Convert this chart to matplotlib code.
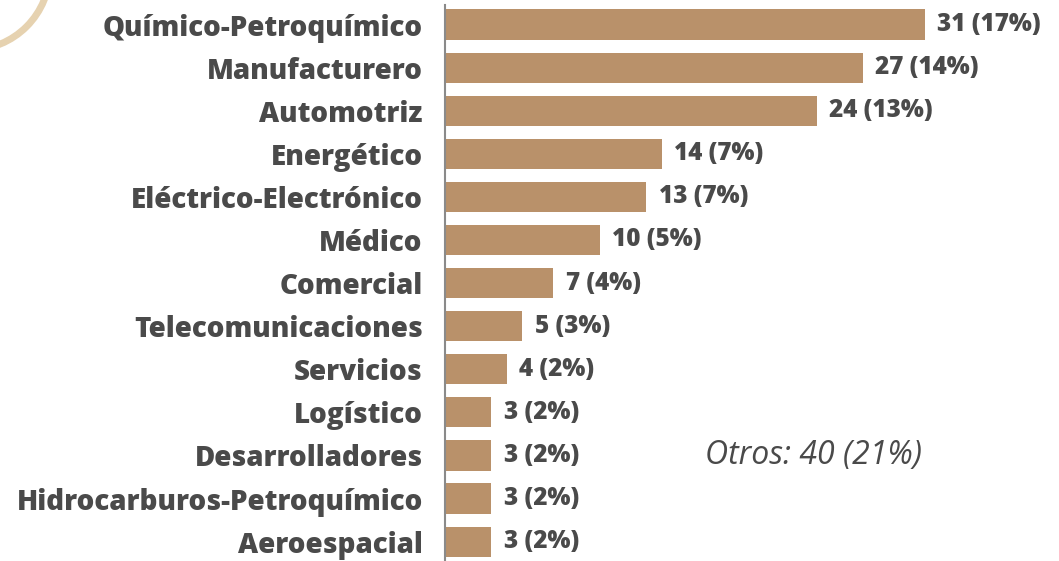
import matplotlib
matplotlib.use("Agg")
import matplotlib.pyplot as plt
from matplotlib.patches import Arc

sectores = ["Químico-Petroquímico", "Manufacturero", "Automotriz", "Energético",
            "Eléctrico-Electrónico", "Médico", "Comercial", "Telecomunicaciones",
            "Servicios", "Logístico", "Desarrolladores", "Hidrocarburos-Petroquímico",
            "Aeroespacial"]
empresas = [31, 27, 24, 14, 13, 10, 7, 5, 4, 3, 3, 3, 3]
porcentajes = [17, 14, 13, 7, 7, 5, 4, 3, 2, 2, 2, 2, 2]
otros_texto = "Otros: 40 (21%)"

bar_color = "#b9916a"
text_color = "#4a4a4a"
plt.rcParams["font.family"] = ["Open Sans", "DejaVu Sans"]

fig = plt.figure(figsize=(10.59, 5.61), dpi=100)
ax = fig.add_axes([445 / 1059, 0, 614 / 1059, 1])

y = list(range(len(sectores)))
ax.barh(y, empresas, height=0.7, color=bar_color)

for i, (v, p) in enumerate(zip(empresas, porcentajes)):
    ax.text(v + 0.8, i, f"{v} ({p}%)", va="center", ha="left",
            fontsize=17.5, fontweight=800, color=text_color)

ax.text(16.8, 10, otros_texto, va="center", ha="left", fontsize=23,
        fontstyle="italic", color=text_color)

ax.set_xlim(0, 39.65)
ax.set_ylim(12.45, -0.57)
ax.set_yticks(y)
ax.set_yticklabels(sectores, fontsize=20, fontweight=800, color=text_color)
ax.tick_params(axis="y", length=0, pad=16)
ax.set_xticks([])
for s in ["top", "right", "bottom"]:
    ax.spines[s].set_visible(False)
ax.spines["left"].set_color("#8a8a8a")
ax.spines["left"].set_linewidth(1.5)
ax.spines["left"].set_bounds(12.45, -0.45)

# decorative arc in the top-left corner
arc = Arc((-30 / 1059, 1 + 30 / 561), 2 * 80 / 1059, 2 * 80 / 561,
          theta1=270, theta2=360, transform=fig.transFigure,
          color="#e6d2b0", linewidth=5)
fig.add_artist(arc)

fig.savefig("out.png", dpi=100)
